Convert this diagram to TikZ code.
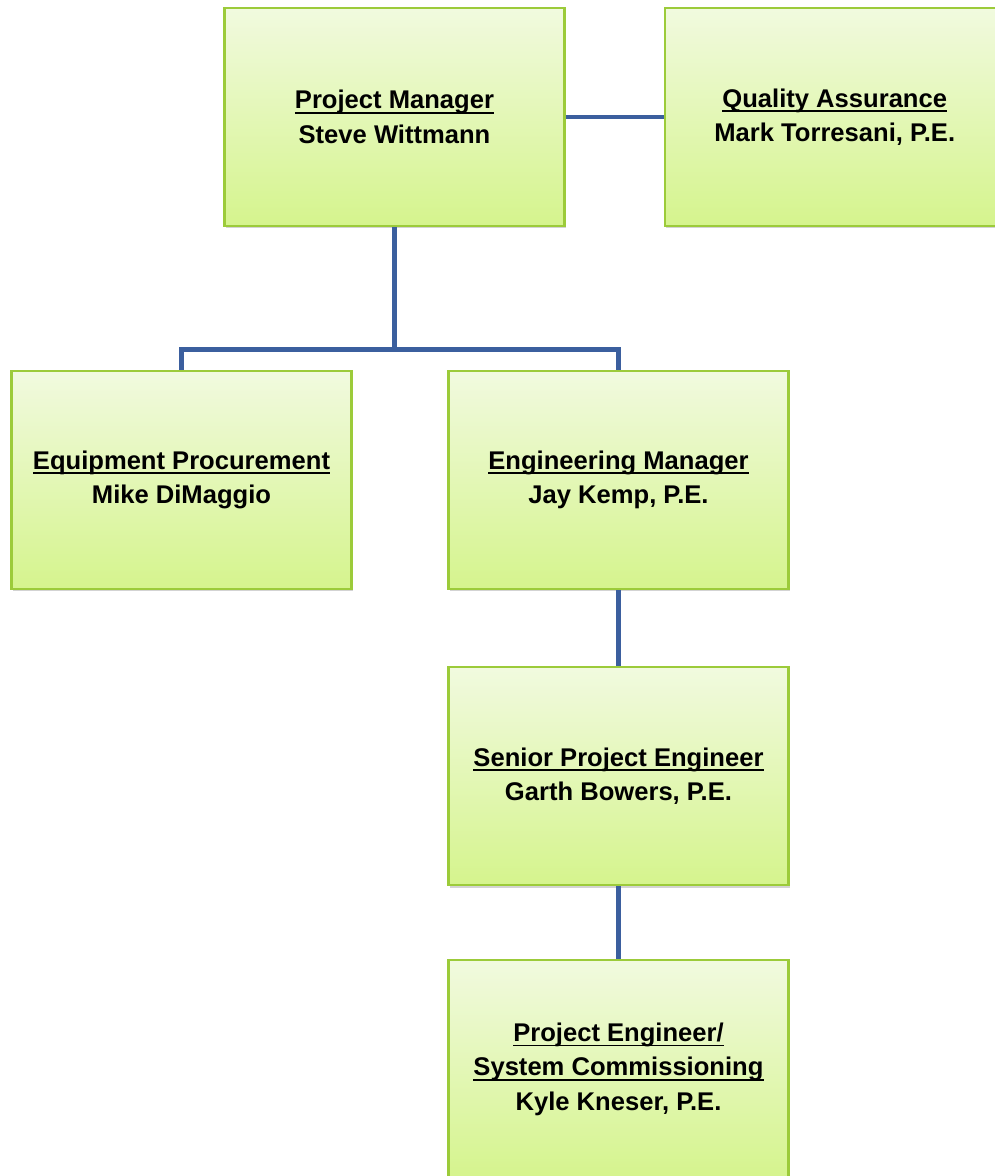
\documentclass[tikz,border=0pt]{standalone}
\usepackage{fontspec}
\setmainfont{Liberation Sans}
\usetikzlibrary{positioning, shadows}
\definecolor{boxtop}{HTML}{F1FADF}
\definecolor{boxbottom}{HTML}{D5F48D}
\definecolor{boxedge}{HTML}{9CCB3A}
\definecolor{linkblue}{HTML}{3B5F9E}
\newcommand{\heading}[1]{\setbox0\hbox{#1}\rlap{\rule[-3.4pt]{\wd0}{1.2pt}}\box0}

\begin{document}
\begin{tikzpicture}[
    every node/.style={rectangle, minimum width=8.5cm, minimum height=5.45cm, inner sep=0pt, align=center, font=\fontsize{18.2}{24.5}\selectfont\bfseries},
    orgbox/.style={draw=boxedge, line width=1.6pt, top color=boxtop, bottom color=boxbottom, drop shadow={shadow xshift=1.2pt, shadow yshift=-1.6pt, opacity=0.35}},
    link/.style={draw=linkblue, line width=3.4pt}
]
\useasboundingbox (0,0) rectangle (24.875,-29.4);
\clip (0,0) rectangle (24.875,-29.4);

\node[orgbox] (pm) at (9.8625,-2.925) {\heading{Project Manager}\\ Steve Wittmann};
\node[orgbox, right=2.45cm of pm] (qa) {\heading{Quality Assurance}\\ Mark Torresani, P.E.};
\node[orgbox] (ep) at (4.5375,-12.0) {\heading{Equipment Procurement}\\ Mike DiMaggio};
\node[orgbox] (em) at (15.4625,-12.0) {\heading{Engineering Manager}\\ Jay Kemp, P.E.};
\node[orgbox, below=1.9cm of em] (spe) {\heading{Senior Project Engineer}\\ Garth Bowers, P.E.};
\node[orgbox, below=1.82cm of spe] (pe) {\heading{Project Engineer/}\\ \heading{System Commissioning}\\ Kyle Kneser, P.E.};

\coordinate[below=3.05cm of pm.south] (bus);

\draw[link] (pm) -- (qa);
\draw[link] (pm.south) -- (bus) -| (ep.north);
\draw[link] (bus) -| (em.north);
\draw[link] (em) -- (spe);
\draw[link] (spe) -- (pe);
\end{tikzpicture}
\end{document}
